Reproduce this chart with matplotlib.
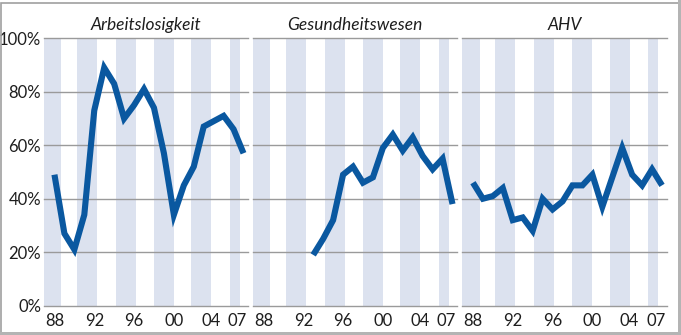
import numpy as np
import matplotlib.pyplot as plt
from matplotlib.patches import Rectangle

plt.rcParams['font.family'] = ['Lato', 'DejaVu Sans']

years = np.arange(1988, 2008)
titles = ['Arbeitslosigkeit', 'Gesundheitswesen', 'AHV']
arbeitslosigkeit = [49, 27, 21, 34, 73, 89, 83, 70, 75, 81, 74, 57, 34, 45, 52, 67, 69, 71, 66, 57]
gesundheitswesen = [np.nan] * 5 + [19, 25, 32, 49, 52, 46, 48, 59, 64, 58, 63, 56, 51, 55, 38]
ahv = [46, 40, 41, 44, 32, 33, 28, 40, 36, 39, 45, 45, 49, 37, 48, 59, 49, 45, 51, 45]
series = [arbeitslosigkeit, gesundheitswesen, ahv]
tick_labels = ['88', '92', '96', '00', '04', '07']
y_ticks = [0, 20, 40, 60, 80, 100]

line_color = '#0a58a0'
band_color = '#dce2ef'
grid_color = '#9a9a9a'
text_color = '#1e1e1e'

W, H = 681, 335
fig = plt.figure(figsize=(W / 100, H / 100), dpi=100)

# decorative shaded stripes (in year units)
bands = [(1986.5, 1988.7), (1990.25, 1992.25), (1994.15, 1996.15),
         (1998.0, 2000.0), (2001.75, 2003.75), (2005.6, 2006.6)]
tick_pos = [1988, 1992, 1996, 2000, 2003.7, 2006.4]

lefts = [44, 253, 462.5]
ax_w = 204
ax_bottom = 335 - 305.7
ax_h = 267.4

for i, (left, title, vals) in enumerate(zip(lefts, titles, series)):
    ax = fig.add_axes([left / W, ax_bottom / H, ax_w / W, ax_h / H])
    ax.set_xlim(1986.95, 2007.45)
    ax.set_ylim(0, 100)
    for a, b in bands:
        ax.axvspan(a, b, color=band_color, lw=0, zorder=0)
    for yv in y_ticks:
        ax.axhline(yv, color=grid_color, lw=1.0, zorder=1, clip_on=False)
    ax.plot(years, vals, color=line_color, lw=4.4, zorder=3,
            solid_joinstyle='miter', solid_capstyle='butt')
    for s in ax.spines.values():
        s.set_visible(False)
    ax.set_xticks(tick_pos)
    ax.set_xticklabels(tick_labels)
    ax.tick_params(axis='x', length=0, pad=5, labelsize=12, labelcolor=text_color)
    ax.set_yticks(y_ticks)
    if i == 0:
        ax.set_yticklabels([f'{v}%' for v in y_ticks])
        ax.tick_params(axis='y', length=0, pad=2, labelsize=12, labelcolor=text_color)
    else:
        ax.set_yticklabels([])
        ax.tick_params(axis='y', length=0)
    ax.set_title(title, fontsize=12.5, style='italic', color=text_color, pad=6)

# outer frame
fig.add_artist(Rectangle((0.5 / W, 0.5 / H), (W - 3) / W, (H - 3) / H,
                         transform=fig.transFigure, fill=False,
                         edgecolor='#a0a0a0', lw=1.2))
fig.add_artist(Rectangle(((W - 3) / W, 0), 3 / W, 1, transform=fig.transFigure,
                         facecolor='#b4b4b4', lw=0))
fig.add_artist(Rectangle((0, 0), 1, 3 / H, transform=fig.transFigure,
                         facecolor='#b4b4b4', lw=0))

fig.savefig('out.png', dpi=100)
